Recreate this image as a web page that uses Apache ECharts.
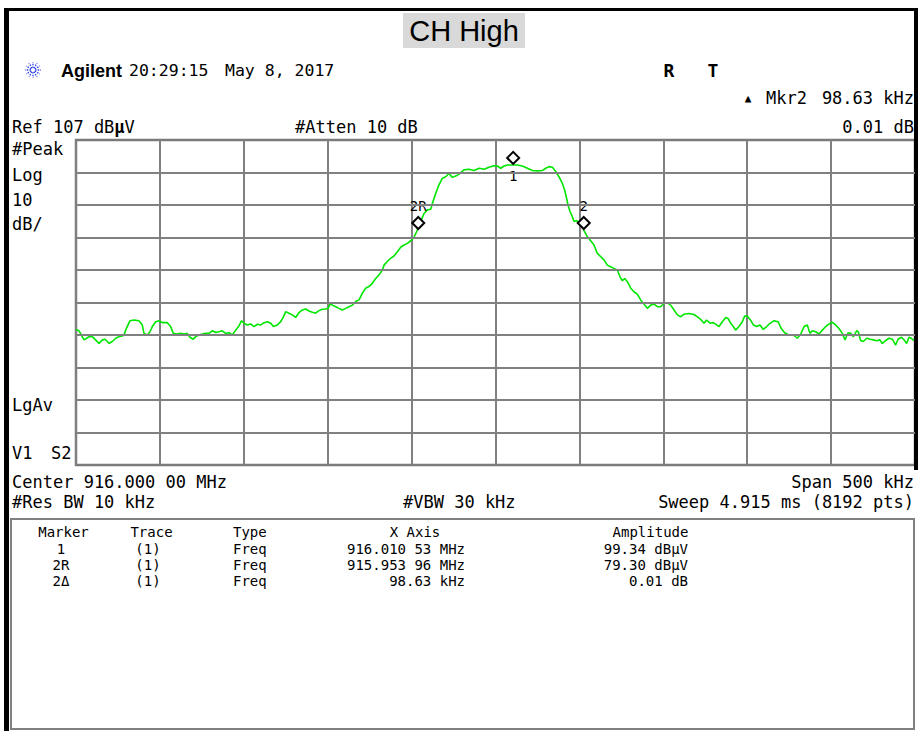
<!DOCTYPE html>
<html><head><meta charset="utf-8">
<script src="https://cdn.jsdelivr.net/npm/echarts@6/dist/echarts.min.js"></script>
<style>html,body{margin:0;padding:0;background:#fff}#c{width:918px;height:731px}</style>
</head><body><div id="c"></div>
<script>
// ---------------- DATA ----------------
const centerMHz = 916.0;          // Center 916.000 00 MHz
const spanKHz = 500;              // Span 500 kHz
const refLevel = 107;             // Ref 107 dBuV
const dbPerDiv = 10;              // Log 10 dB/
const xDivKHz = 50;               // span / 10 divisions

// trace: frequency offset from center (kHz) and level (dBuV)
const freqOffsetKHz = [
-250,-248.2,-246.8,-245.2,-243.6,-242.3,-240.3,-238.3,-236.3,-234.3,-232.7,-231.3,-230.3,-228.4,-226.3,-224.4,-222.4,-221.4,-220.4,-219.0,
-217.8,-215.4,-212.5,-210.5,-209.5,-207.5,-205.9,-204.5,-202.5,-200.5,-198.6,-195.6,-193.6,-192.0,-190.0,-187.6,-185.6,-183.7,-182.1,-180.1,
-178.7,-176.7,-174.7,-172.7,-170.7,-168.8,-166.7,-164.8,-162.8,-160.8,-158.8,-156.9,-154.8,-152.9,-151.3,-149.9,-147.9,-145.9,-143.9,-141.9,
-139.9,-137.9,-135.9,-133.9,-132.4,-130.0,-128.0,-126.4,
-125.0,-123.1,-121.1,-119.1,-117.1,-115.1,-113.1,-111.1,-109.2,-107.2,-105.2,-103.2,-101.2,-99.8,-98.6,-97.2,-95.2,-93.3,-91.3,-89.3,
-87.3,-85.3,-83.3,-81.3,-79.4,-77.4,-75.4,-73.4,-71.4,-69.4,-67.4,-66.4,-64.5,-62.5,-60.5,-58.5,-56.5,-54.5,-52.5,-50.5,
-48.6,-46.6,-44.6,-42.6,-40.6,-38.6,-37.6,-35.6,-33.7,-31.7,-29.7,-27.7,-25.7,-23.7,-21.7,-18.8,-15.8,-12.8,-9.8,-6.8,
-3.9,-0.9,
1.1,3.1,5.1,7.1,10.5,13.0,16.0,19.0,22.0,25.0,27.9,29.9,31.9,33.9,35.9,37.8,39.8,41.2,42.4,43.2,
44.4,45.8,46.8,48.4,49.8,51.8,52.6,54.7,56.7,58.7,60.7,62.7,64.7,66.6,68.6,70.6,72.6,74.2,75.6,77.0,
78.6,80.6,82.5,84.5,86.5,88.5,90.5,92.5,94.5,96.5,98.4,100.4,102.4,104.4,106.4,108.4,110.4,112.3,115.3,118.3,
120.3,122.3,
124.3,125.8,127.8,129.8,131.8,133.2,135.2,137.2,138.6,140.2,141.7,143.1,145.1,147.1,148.5,150.1,151.7,153.7,155.6,157.6,
159.6,161.6,163.6,166.0,168.4,170.3,172.3,174.9,177.5,179.9,181.9,183.9,185.8,187.4,188.8,190.8,192.8,194.8,196.8,198.8,
200.7,202.7,204.7,206.7,208.3,210.1,211.7,213.3,215.2,216.2,217.6,219.2,221.2,223.2,225.2,227.2,229.1,230.5,232.5,234.5,
236.5,238.5,239.9,241.9,243.5,245.0,246.4,247.8,249.4,250
];
const levelDbuV = [
48.7,48.3,47.0,45.5,46.0,46.5,46.5,45.5,44.4,45.5,45.7,45.0,44.4,45.0,46.0,46.5,46.7,47.0,48.5,50.1,
51.4,51.6,51.4,50.1,47.5,47.0,48.0,49.6,51.1,51.4,50.8,50.8,49.6,47.5,47.3,47.5,47.3,47.5,46.3,45.7,
46.5,47.0,47.3,47.5,47.5,48.3,47.8,48.0,48.3,47.5,47.7,47.0,48.5,49.8,51.4,50.6,50.1,50.4,49.6,50.3,
50.1,50.8,51.1,50.6,49.6,50.1,51.1,52.6,
54.2,53.7,53.2,52.4,53.9,54.7,55.0,54.4,54.0,53.7,54.5,54.9,55.0,55.2,56.5,56.2,55.7,55.2,54.7,55.2,
55.7,56.2,57.3,57.8,59.8,61.4,61.9,62.9,64.4,65.5,67.0,68.5,69.6,70.6,71.3,72.6,74.0,74.7,75.2,76.0,
77.0,79.3,81.9,84.4,85.5,85.7,87.5,90.6,93.2,95.2,95.7,96.7,95.5,95.9,96.5,97.8,98.0,97.6,98.3,98.0,
98.6,99.1,
99.0,98.3,99.0,99.3,99.3,99.3,99.0,98.3,97.6,97.5,97.6,98.3,98.8,98.6,97.3,95.7,93.7,91.6,89.0,87.0,
85.0,83.4,81.9,82.2,81.4,80.3,79.3,77.3,76.0,74.7,72.1,71.1,70.1,68.5,68.0,67.5,67.0,64.9,63.7,64.4,
63.4,61.4,60.3,59.6,57.8,56.5,55.2,56.2,56.5,55.7,55.7,56.7,56.9,56.2,54.7,53.2,52.6,53.4,53.6,53.3,
52.6,51.8,
50.6,51.6,50.6,50.8,50.1,49.6,51.1,52.4,52.1,50.6,49.6,48.5,49.6,51.1,52.8,52.8,51.8,50.1,49.6,50.1,
48.7,49.6,50.6,51.4,51.1,49.0,47.7,47.0,47.0,46.0,47.3,49.6,50.1,47.5,48.3,48.0,47.3,48.5,49.6,50.4,
50.9,50.1,49.0,47.5,45.5,47.7,47.5,46.5,48.3,48.0,45.3,45.0,46.0,45.7,45.5,45.2,45.5,44.4,45.3,46.0,
45.7,43.9,45.7,46.3,45.5,44.4,46.3,46.0,45.3,45.5
];

// markers
const markerNames = ['1', '2R', '2'];
const markerOffsetKHz = [10.53, -46.04, 52.59];
const markerLevels = [99.34, 79.30, 79.31];

// horizontal graticule levels (dBuV)
const gridLevels = [17, 27, 37, 47, 57, 67, 77, 87, 97];

// marker table
const tableHeaders = ['Marker', 'Trace', 'Type', 'X Axis', 'Amplitude'];
const tableMarker = ['1', '2R', '2\u0394'];
const tableTrace = ['(1)', '(1)', '(1)'];
const tableType = ['Freq', 'Freq', 'Freq'];
const tableXAxis = ['916.010 53 MHz', '915.953 96 MHz', '98.63 kHz'];
const tableAmplitude = ['99.34 dB\u03bcV', '79.30 dB\u03bcV', '0.01 dB'];

// ---------------- CHART ----------------
const MONO = '"DejaVu Sans Mono", monospace';
const chart = echarts.init(document.getElementById('c'), null, {renderer: 'svg'});

function T(text, x, y, o) {
  o = o || {};
  const font = (o.bold ? 'bold ' : '') + (o.size || 17) + 'px ' + (o.family || MONO);
  return {
    type: 'text', x: x, y: y, z: 20, silent: true,
    style: {
      text: text, font: font, fill: o.color || '#000',
      textAlign: o.align || 'left', textVerticalAlign: 'middle',
      align: o.align || 'left', verticalAlign: 'middle'
    }
  };
}

const graphics = [];
// frame
graphics.push({type: 'rect', shape: {x: 4, y: 8, width: 914, height: 3}, style: {fill: '#000'}, z: 5, silent: true});
graphics.push({type: 'rect', shape: {x: 4, y: 8, width: 5, height: 723}, style: {fill: '#000'}, z: 5, silent: true});
graphics.push({type: 'rect', shape: {x: 914, y: 8, width: 4, height: 462}, style: {fill: '#000'}, z: 5, silent: true});
graphics.push({type: 'rect', shape: {x: 11, y: 519, width: 903, height: 210}, style: {fill: 'none', stroke: '#808080', lineWidth: 2}, z: 5, silent: true});

// title box
graphics.push({type: 'rect', shape: {x: 403, y: 13, width: 122, height: 35}, style: {fill: '#d9d9d9'}, z: 6, silent: true});
graphics.push(T('CH High', 464, 31, {size: 29, family: '"Liberation Sans", Arial, sans-serif', align: 'center'}));

// Agilent logo (starburst)
for (let i = 0; i < 12; i++) {
  const a = i * Math.PI / 6;
  graphics.push({type: 'line', z: 10, silent: true,
    shape: {x1: 33 + 2 * Math.cos(a), y1: 70 + 2 * Math.sin(a), x2: 33 + 8 * Math.cos(a), y2: 70 + 8 * Math.sin(a)},
    style: {stroke: '#2a3ee6', lineWidth: 1.3, lineDash: [1.5, 1.2]}});
}
graphics.push(T('Agilent', 61, 70.5, {size: 18, bold: true, family: '"Liberation Sans", Arial, sans-serif'}));
graphics.push(T('20:29:15', 129, 70.5, {size: 16.5}));
graphics.push(T('May 8, 2017', 225, 70.5, {size: 16.5}));
graphics.push(T('R', 669, 70, {size: 18, bold: true, align: 'center'}));
graphics.push(T('T', 713, 70, {size: 18, bold: true, align: 'center'}));

graphics.push(T('\u25b2', 748, 98.5, {size: 11, align: 'center'}));
graphics.push(T('Mkr2', 766, 98, {size: 17}));
graphics.push(T('98.63 kHz', 914, 98, {size: 17, align: 'right'}));

graphics.push({type: 'text', x: 12, y: 126.5, z: 20, silent: true,
  style: {text: '{a|Ref 107 dB}{b|\u03bc}{a|V}', textVerticalAlign: 'middle', verticalAlign: 'middle',
    rich: {a: {font: '17px ' + MONO, fill: '#000'}, b: {font: 'bold 17px ' + MONO, fill: '#000'}}}});
graphics.push(T('#Atten 10 dB', 295, 126.5));
graphics.push(T('0.01 dB', 914, 126.5, {align: 'right'}));

graphics.push(T('#Peak', 12, 148.5));
graphics.push(T('Log', 12, 175));
graphics.push(T('10', 12, 199.5));
graphics.push(T('dB/', 12, 224));
graphics.push(T('LgAv', 12, 405));
graphics.push(T('V1', 12, 453));
graphics.push(T('S2', 51, 453));

graphics.push(T('Center 916.000 00 MHz', 12, 481.5));
graphics.push(T('Span 500 kHz', 914, 481.5, {align: 'right'}));
graphics.push(T('#Res BW 10 kHz', 12, 501.5));
graphics.push(T('#VBW 30 kHz', 403, 501.5));
graphics.push(T('Sweep 4.915 ms (8192 pts)', 914, 501.5, {align: 'right'}));

// marker table
const TS = 14;
const hdrX = [63.5, 151.5, 233, 415, 650.5];
const hdrAlign = ['center', 'center', 'left', 'center', 'center'];
tableHeaders.forEach((h, i) => graphics.push(T(h, hdrX[i], 532, {size: TS, align: hdrAlign[i]})));
for (let r = 0; r < tableMarker.length; r++) {
  const y = 548.5 + r * 16;
  graphics.push(T(tableMarker[r], 61, y, {size: TS, align: 'center'}));
  graphics.push(T(tableTrace[r], 148, y, {size: TS, align: 'center'}));
  graphics.push(T(tableType[r], 233, y, {size: TS}));
  graphics.push(T(tableXAxis[r], 465, y, {size: TS, align: 'right'}));
  graphics.push(T(tableAmplitude[r], 688, y, {size: TS, align: 'right'}));
}

const traceData = freqOffsetKHz.map((f, i) => [f, levelDbuV[i]]);
const markerData = markerNames.map((n, i) => ({
  value: [markerOffsetKHz[i], markerLevels[i]],
  name: n,
  label: i === 0
    ? {show: true, position: 'bottom', distance: 4, formatter: n, color: '#000', fontFamily: MONO, fontSize: 14}
    : {show: true, position: 'top', distance: 3, formatter: n, color: '#000', fontFamily: MONO, fontSize: 14}
}));

chart.setOption({
  animation: false,
  backgroundColor: '#ffffff',
  grid: {left: 76, top: 140, width: 839, height: 325, show: true, borderColor: '#7a7a7a', borderWidth: 2.5, backgroundColor: 'transparent'},
  xAxis: {
    type: 'value', min: -spanKHz / 2, max: spanKHz / 2, interval: xDivKHz,
    axisLine: {show: false}, axisTick: {show: false}, axisLabel: {show: false},
    splitLine: {show: true, lineStyle: {color: '#808080', width: 2}}
  },
  yAxis: {
    type: 'value', min: refLevel - 10 * dbPerDiv, max: refLevel,
    axisLine: {show: false}, axisTick: {show: false}, axisLabel: {show: false},
    splitLine: {show: false}
  },
  graphic: graphics,
  series: [
    {
      type: 'line', data: [], z: 1, silent: true,
      markLine: {
        silent: true, symbol: ['none', 'none'], label: {show: false},
        lineStyle: {color: '#808080', width: 2, type: 'solid'},
        data: gridLevels.map(v => ({yAxis: v}))
      }
    },
    {
      type: 'line', data: traceData, z: 3, showSymbol: false, symbol: 'none', silent: true,
      lineStyle: {color: '#00e600', width: 1.6}
    },
    {
      type: 'scatter', data: markerData, z: 4, silent: true,
      symbol: 'diamond', symbolSize: [12, 12], symbolOffset: [0, -7],
      itemStyle: {color: '#ffffff', borderColor: '#000000', borderWidth: 2, opacity: 1},
      emphasis: {disabled: true},
      label: {color: '#000', fontFamily: MONO, fontSize: 14}
    }
  ]
});
</script>
</body></html>
